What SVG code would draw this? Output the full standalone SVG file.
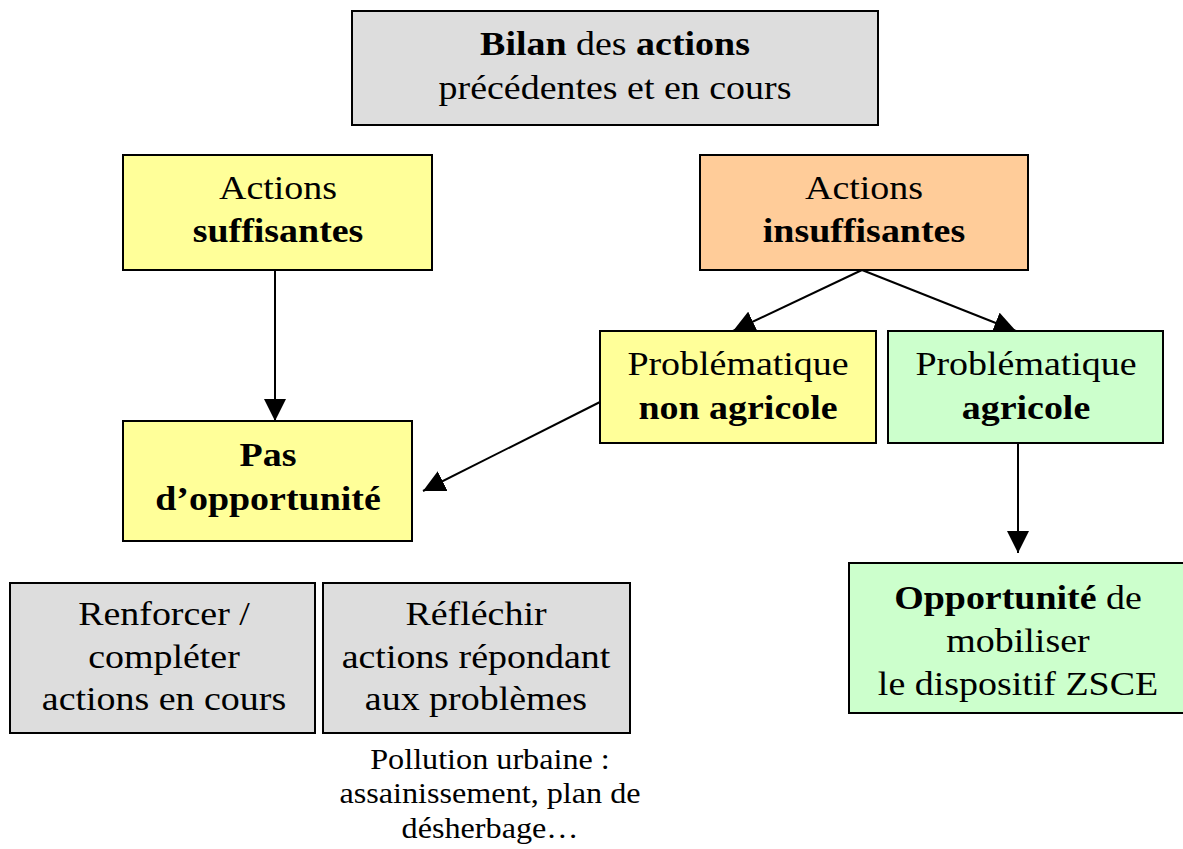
<svg xmlns="http://www.w3.org/2000/svg" width="1183" height="849" viewBox="0 0 1183 849">
<defs>
<style>
.box{stroke:#000;stroke-width:2}
.gray{fill:#dddddd}
.yel{fill:#ffff99}
.org{fill:#ffcc99}
.grn{fill:#ccffcc}
text{font-family:"Liberation Serif","Times New Roman",serif;font-size:33px;fill:#000;text-anchor:middle}
.b{font-weight:bold}
.small{font-size:28.5px}
.con{stroke:#000;stroke-width:2;fill:none}
</style>
<marker id="ah" viewBox="0 0 10 10" refX="10" refY="5" markerWidth="22" markerHeight="22" markerUnits="userSpaceOnUse" orient="auto">
<path d="M0,0 L10,5 L0,10 z" fill="#000"/>
</marker>
</defs>
<rect width="1183" height="849" fill="#fff"/>
<g id="connectors">
<line class="con" x1="275" y1="270" x2="275" y2="421" marker-end="url(#ah)"/>
<line class="con" x1="862" y1="270" x2="733" y2="331" marker-end="url(#ah)"/>
<line class="con" x1="862" y1="270" x2="1016" y2="331" marker-end="url(#ah)"/>
<line class="con" x1="600" y1="402" x2="423" y2="491" marker-end="url(#ah)"/>
<line class="con" x1="1018" y1="443" x2="1018" y2="553" marker-end="url(#ah)"/>
</g>
<g id="bilan">
<rect class="box gray" x="352" y="11" width="526" height="114"/>
<text transform="translate(615,55) scale(1.15,1)"><tspan class="b">Bilan</tspan> des <tspan class="b">actions</tspan></text>
<text transform="translate(615,99) scale(1.15,1)">précédentes et en cours</text>
</g>
<g id="suffisantes">
<rect class="box yel" x="123" y="155" width="309" height="115"/>
<text transform="translate(278,199) scale(1.15,1)">Actions</text>
<text transform="translate(278,242) scale(1.15,1)" class="b">suffisantes</text>
</g>
<g id="insuffisantes">
<rect class="box org" x="700" y="155" width="328" height="115"/>
<text transform="translate(864,199) scale(1.15,1)">Actions</text>
<text transform="translate(864,242) scale(1.15,1)" class="b">insuffisantes</text>
</g>
<g id="nonagricole">
<rect class="box yel" x="600" y="331" width="276" height="112"/>
<text transform="translate(738,375) scale(1.15,1)">Problématique</text>
<text transform="translate(738,419) scale(1.15,1)" class="b">non agricole</text>
</g>
<g id="agricole">
<rect class="box grn" x="888" y="331" width="275" height="112"/>
<text transform="translate(1026,375) scale(1.15,1)">Problématique</text>
<text transform="translate(1026,419) scale(1.15,1)" class="b">agricole</text>
</g>
<g id="pas">
<rect class="box yel" x="123" y="421" width="289" height="120"/>
<text transform="translate(268,466) scale(1.15,1)" class="b">Pas</text>
<text transform="translate(268,510) scale(1.15,1)" class="b">d’opportunité</text>
</g>
<g id="opportunite">
<rect class="box grn" x="849" y="563" width="340" height="150"/>
<text transform="translate(1018,609) scale(1.15,1)"><tspan class="b">Opportunité</tspan> de</text>
<text transform="translate(1018,652) scale(1.15,1)">mobiliser</text>
<text transform="translate(1018,695) scale(1.15,1)">le dispositif ZSCE</text>
</g>
<g id="renforcer">
<rect class="box gray" x="10" y="583" width="305" height="150"/>
<text transform="translate(164,625) scale(1.15,1)">Renforcer /</text>
<text transform="translate(164,668) scale(1.15,1)">compléter</text>
<text transform="translate(164,710) scale(1.15,1)">actions en cours</text>
</g>
<g id="reflechir">
<rect class="box gray" x="323" y="583" width="307" height="150"/>
<text transform="translate(476,625) scale(1.15,1)">Réfléchir</text>
<text transform="translate(476,668) scale(1.15,1)">actions répondant</text>
<text transform="translate(476,710) scale(1.15,1)">aux problèmes</text>
</g>
<g id="pollution">
<text transform="translate(490,769) scale(1.13,1)" class="small">Pollution urbaine :</text>
<text transform="translate(490,803) scale(1.13,1)" class="small">assainissement, plan de</text>
<text transform="translate(490,838) scale(1.13,1)" class="small">désherbage…</text>
</g>
</svg>
